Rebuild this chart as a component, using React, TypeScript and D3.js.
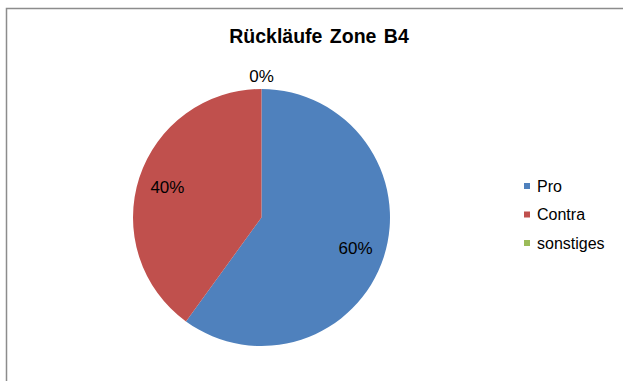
import React from "react";
import * as d3 from "d3";

const categories = ["Pro", "Contra", "sonstiges"];
const shares = [60, 40, 0];
const colors = ["#4F81BD", "#C0504D", "#9BBB59"];
const title = "Rückläufe Zone B4";

const W = 623;
const H = 381;
const cx = 261.5;
const cy = 217.5;
const radius = 128.5;

export default function App() {
  const pie = d3.pie<number>().sort(null).value((d) => d)(shares);
  const arc = d3.arc<d3.PieArcDatum<number>>().innerRadius(0).outerRadius(radius);
  const labelArc = d3
    .arc<d3.PieArcDatum<number>>()
    .innerRadius(radius * 0.77)
    .outerRadius(radius * 0.77);
  const outerArc = d3
    .arc<d3.PieArcDatum<number>>()
    .innerRadius(radius + 13)
    .outerRadius(radius + 13);

  const legendY = d3.scalePoint<string>().domain(categories).range([186, 243]);

  return (
    <svg
      width={W}
      height={H}
      style={{ position: "absolute", left: 0, top: 0, background: "#fff" }}
      fontFamily="'Liberation Sans', Arial, sans-serif"
    >
      <rect x={6.5} y={8.5} width={W} height={H} fill="#fff" stroke="#8c8c8c" strokeWidth={1.5} />
      <text
        x={319}
        y={43}
        textAnchor="middle"
        fontSize={19.5}
        fontWeight="bold"
        wordSpacing={2}
        fill="#000"
      >
        {title}
      </text>
      <g transform={`translate(${cx},${cy})`}>
        {pie.map((p, i) =>
          p.value > 0 ? <path key={categories[i]} d={arc(p) ?? ""} fill={colors[i]} /> : null
        )}
        {pie.map((p, i) => {
          const [lx, ly] = p.value > 0 ? labelArc.centroid(p) : outerArc.centroid(p);
          return (
            <text
              key={"l" + categories[i]}
              x={lx}
              y={ly}
              dy="0.35em"
              textAnchor="middle"
              fontSize={17}
              fill="#000"
            >
              {`${p.value}%`}
            </text>
          );
        })}
      </g>
      <g>
        {categories.map((c, i) => (
          <g key={c} transform={`translate(524,${legendY(c)})`}>
            <rect x={0} y={-3} width={6} height={6} fill={colors[i]} />
            <text x={13} y={0} dy="0.35em" fontSize={16} fill="#000">
              {c}
            </text>
          </g>
        ))}
      </g>
    </svg>
  );
}
